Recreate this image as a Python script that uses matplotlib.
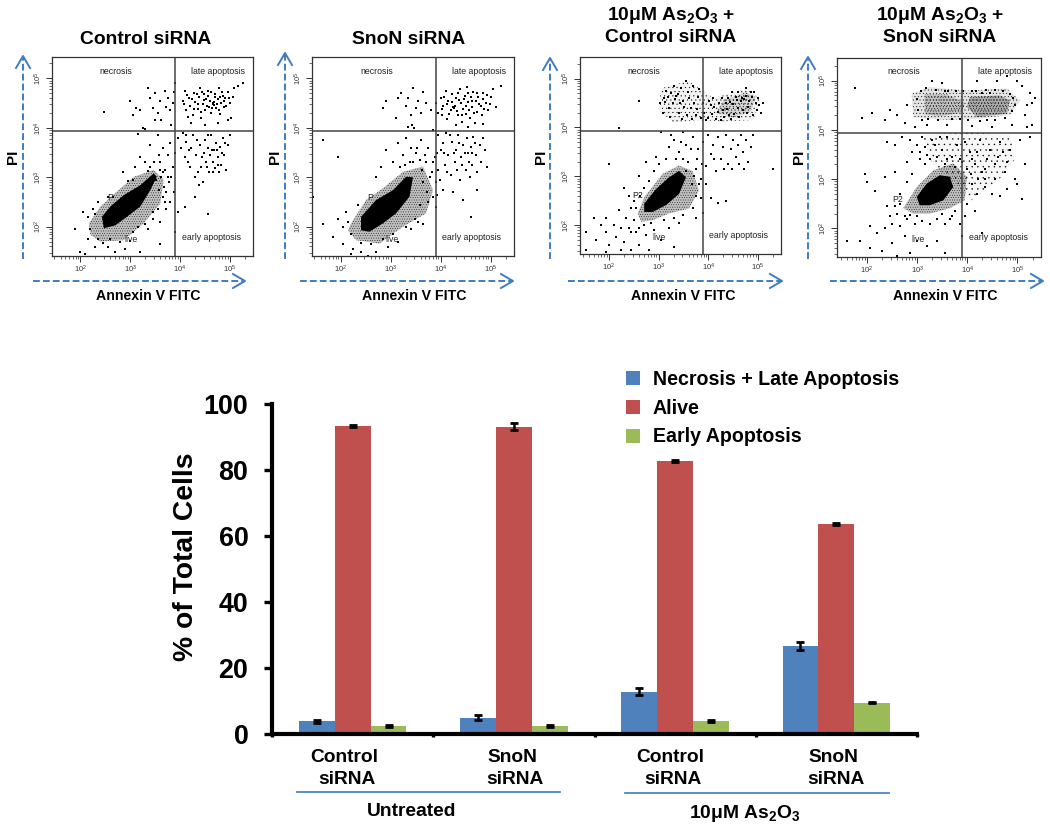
# Flow cytometry panels + bar chart of cell populations
import numpy as np
import matplotlib
matplotlib.use('Agg')
from matplotlib import pyplot as plt
from matplotlib.lines import Line2D
from matplotlib.ticker import LogLocator, NullFormatter

plt.rcParams['font.family'] = ['Liberation Sans', 'DejaVu Sans']
plt.rcParams['mathtext.default'] = 'regular'
plt.rcParams['hatch.linewidth'] = 0.25

W, H = 1050, 833

# bar chart values
groups = ['Control\nsiRNA', 'SnoN\nsiRNA', 'Control\nsiRNA', 'SnoN\nsiRNA']
series = ['Necrosis + Late Apoptosis', 'Alive', 'Early Apoptosis']
necrosis_late = [3.8, 4.9, 12.8, 26.6]
alive = [93.4, 93.1, 82.7, 63.6]
early = [2.4, 2.4, 4.0, 9.5]
necrosis_late_err = [0.4, 0.8, 1.0, 1.2]
alive_err = [0.3, 1.1, 0.4, 0.4]
early_err = [0.4, 0.4, 0.3, 0.2]
bar_colors = ['#4F81BD', '#C0504D', '#9BBB59']

# gates and dots in log10 units. The dense clouds are outlines, the dots are hand read
ctrl_core = [(2.43, 2.2), (2.6, 2.41), (2.87, 2.64), (3.2, 2.84), (3.47, 3.08), (3.53, 3.01), (3.4, 2.74),
             (3.2, 2.41), (2.93, 2.2), (2.7, 2.03), (2.47, 1.97)]
ctrl_halo = [(2.17, 2.07), (2.4, 2.41), (2.73, 2.71), (3.07, 3.01), (3.47, 3.15), (3.67, 2.95), (3.6, 2.47),
             (3.27, 2.07), (2.87, 1.73), (2.4, 1.7), (2.2, 1.84)]
ctrl_pts = [(4.05, 4.55), (4.1, 4.75), (4.12, 4.35), (4.18, 4.6), (4.2, 4.45), (4.25, 4.25), (4.28, 4.7), (4.3, 4.52),
            (4.35, 4.38), (4.38, 4.62), (4.4, 4.8), (4.42, 4.2), (4.45, 4.48), (4.48, 4.68), (4.5, 4.35), (4.52, 4.58),
            (4.55, 4.75), (4.58, 4.42), (4.6, 4.55), (4.62, 4.3), (4.65, 4.5), (4.66, 4.48), (4.67, 4.46), (4.68, 4.52),
            (4.7, 4.68), (4.72, 4.4), (4.75, 4.58), (4.78, 4.8), (4.8, 4.28), (4.82, 4.5), (4.85, 4.65), (4.88, 4.42),
            (4.9, 4.6), (4.95, 4.72), (5.0, 4.5), (5.05, 4.62), (5.08, 4.8), (5.15, 4.85), (5.25, 4.9), (4.22, 4.1),
            (4.5, 4.05), (4.75, 4.1), (4.95, 4.15), (5.02, 4.2), (2.48, 4.31), (3.0, 4.55), (3.05, 4.25), (3.12, 4.4),
            (3.2, 4.35), (3.25, 4.0), (3.3, 3.98), (3.4, 4.6), (3.45, 4.4), (3.5, 4.7), (3.55, 4.3), (3.6, 4.55),
            (3.62, 4.15), (3.7, 4.75), (3.72, 4.42), (3.75, 4.6), (3.8, 4.35), (3.85, 4.5), (3.88, 4.72), (3.9, 4.9),
            (3.82, 4.05), (3.5, 4.15), (3.35, 4.8), (3.15, 3.87), (3.95, 3.8), (4.02, 3.6), (4.05, 3.9), (4.1, 3.4),
            (4.12, 3.72), (4.18, 3.55), (4.2, 3.2), (4.25, 3.85), (4.3, 3.0), (4.32, 3.45), (4.38, 2.85), (4.4, 3.65),
            (4.42, 3.2), (4.45, 2.9), (4.48, 3.5), (4.5, 3.75), (4.52, 3.3), (4.55, 3.6), (4.58, 3.1), (4.6, 3.45),
            (4.62, 3.85), (4.65, 3.3), (4.68, 3.55), (4.7, 3.18), (4.72, 3.7), (4.75, 3.4), (4.78, 3.1), (4.8, 3.62),
            (4.82, 3.25), (4.85, 3.8), (4.88, 3.45), (4.92, 3.15), (4.95, 3.65), (5.0, 3.85), (4.3, 2.6), (4.1, 2.4),
            (4.55, 2.25), (3.95, 2.3), (3.6, 3.3), (3.65, 3.6), (3.7, 3.15), (3.75, 3.45), (3.78, 2.9), (3.8, 3.7),
            (3.85, 3.2), (3.88, 2.7), (3.9, 3.5), (3.55, 3.85), (3.4, 3.65), (3.3, 3.3), (3.2, 3.4), (3.1, 3.2),
            (2.85, 3.1), (3.05, 2.95), (3.65, 2.6), (3.72, 2.35), (3.6, 2.1), (3.55, 2.35), (3.8, 2.5), (3.45, 2.3),
            (3.35, 1.95), (3.05, 1.9), (3.6, 1.65), (3.9, 1.9), (2.0, 1.5), (2.1, 1.45), (2.3, 1.6), (2.2, 1.95),
            (2.35, 1.75), (2.55, 1.6), (2.7, 1.5), (2.9, 1.55), (3.2, 1.5), (1.9, 1.95), (2.05, 2.3), (2.15, 2.2),
            (2.25, 2.35), (2.35, 2.5), (3.75, 3.0),
            (4.08, 4.48), (4.14, 4.66), (4.16, 4.22), (4.24, 4.58), (4.27, 4.38), (4.33, 4.68), (4.36, 4.48), (4.41, 4.32),
            (4.44, 4.72), (4.47, 4.56), (4.53, 4.44), (4.56, 4.64), (4.61, 4.72), (4.64, 4.4), (4.69, 4.62), (4.73, 4.48),
            (4.77, 4.36), (4.79, 4.62), (4.83, 4.72), (4.87, 4.55), (4.91, 4.45), (4.97, 4.6), (4.12, 3.85), (4.16, 3.3),
            (4.22, 3.6), (4.34, 3.75), (4.36, 3.1), (4.44, 3.4), (4.54, 3.2), (4.56, 3.85), (4.64, 3.55), (4.66, 3.1),
            (4.74, 3.55), (4.76, 3.25), (4.84, 3.5), (4.9, 3.7), (3.62, 3.0), (3.68, 2.8), (3.72, 2.7), (3.58, 2.75),
            (3.65, 3.1), (3.52, 2.95), (3.48, 3.3), (3.82, 3.0), (3.4, 3.2), (3.58, 3.45), (2.3, 2.25), (2.6, 1.75),
            (2.8, 1.7), (3.0, 1.72), (3.3, 2.05), (3.45, 2.15), (2.45, 1.68), (2.15, 1.75), (2.65, 2.6), (2.55, 2.6),
            (2.95, 2.92), (3.35, 3.12), (3.6, 3.15), (3.7, 2.5), (3.15, 2.0)]

snon_core = [(2.41, 2.2), (2.71, 2.54), (3.05, 2.74), (3.31, 3.01), (3.45, 3.0), (3.38, 2.61), (3.11, 2.27),
             (2.85, 2.07), (2.58, 1.9), (2.41, 1.93)]
snon_halo = [(2.21, 2.07), (2.51, 2.54), (2.85, 2.78), (3.25, 3.11), (3.65, 3.22), (3.85, 2.74), (3.71, 2.27),
             (3.25, 2.0), (2.78, 1.66), (2.31, 1.73), (2.15, 1.93)]
snon_pts = [(3.95, 4.3), (4.0, 4.6), (4.02, 4.25), (4.05, 4.45), (4.1, 4.75), (4.12, 4.18), (4.15, 4.55), (4.2, 4.35),
            (4.22, 4.68), (4.25, 4.42), (4.26, 4.4), (4.28, 4.44), (4.3, 4.6), (4.35, 4.25), (4.38, 4.78), (4.4, 4.5),
            (4.42, 4.12), (4.45, 4.38), (4.48, 4.65), (4.5, 4.28), (4.52, 4.82), (4.55, 4.52), (4.58, 4.2), (4.6, 4.62),
            (4.62, 4.42), (4.65, 4.72), (4.68, 4.1), (4.7, 4.55), (4.72, 4.32), (4.75, 4.62), (4.8, 4.45), (4.82, 4.25),
            (4.85, 4.7), (4.9, 4.5), (4.95, 4.35), (5.0, 4.62), (5.05, 4.78), (5.1, 4.42), (5.2, 4.85), (4.3, 4.05),
            (4.55, 4.02), (4.85, 4.08), (2.85, 4.4), (2.9, 4.55), (3.1, 4.2), (3.15, 4.6), (3.2, 4.7), (3.3, 4.45),
            (3.35, 4.6), (3.4, 4.25), (3.45, 4.8), (3.5, 4.4), (3.55, 4.55), (3.6, 4.3), (3.65, 4.72), (3.7, 4.5),
            (3.8, 4.35), (3.9, 4.5), (3.35, 4.02), (3.42, 4.05), (3.47, 4.0), (3.85, 3.95), (3.95, 3.85), (4.0, 3.55),
            (4.05, 3.7), (4.08, 3.25), (4.1, 3.9), (4.15, 3.45), (4.2, 3.05), (4.22, 3.72), (4.28, 3.3), (4.3, 3.55),
            (4.35, 3.85), (4.38, 2.95), (4.4, 3.4), (4.45, 3.65), (4.5, 3.15), (4.52, 3.8), (4.55, 3.5), (4.58, 3.0),
            (4.6, 3.62), (4.62, 3.25), (4.65, 3.82), (4.7, 3.45), (4.72, 3.1), (4.78, 3.65), (4.8, 3.3), (4.85, 3.8),
            (4.88, 3.55), (4.92, 3.2), (4.72, 2.75), (4.25, 2.7), (4.45, 2.55), (4.6, 2.2), (3.9, 2.4), (4.05, 2.75),
            (3.6, 3.75), (3.5, 3.5), (3.4, 3.6), (3.3, 3.8), (3.25, 3.45), (3.15, 3.7), (3.05, 3.3), (2.9, 3.55),
            (2.8, 3.2), (2.7, 3.0), (3.7, 3.3), (3.75, 3.6), (3.82, 3.1), (3.88, 3.4), (3.9, 2.9), (3.95, 3.15),
            (3.65, 2.9), (3.75, 2.5), (3.85, 2.6), (3.55, 2.1), (3.4, 1.95), (3.65, 2.05), (2.05, 2.0), (1.95, 2.15),
            (2.1, 2.3), (1.45, 2.6), (1.65, 2.05), (1.85, 1.8), (2.2, 1.45), (2.4, 1.5), (2.55, 1.42), (2.7, 1.5),
            (2.95, 1.6), (3.15, 1.7), (2.05, 1.65), (2.25, 1.55), (1.95, 3.4), (1.65, 3.75),
            (4.03, 4.38), (4.07, 4.62), (4.13, 4.48), (4.17, 4.28), (4.23, 4.52), (4.32, 4.34), (4.34, 4.7), (4.37, 4.56),
            (4.43, 4.26), (4.46, 4.58), (4.51, 4.44), (4.54, 4.7), (4.57, 4.36), (4.63, 4.55), (4.67, 4.3), (4.73, 4.7),
            (4.77, 4.48), (4.84, 4.58), (4.87, 4.38), (4.93, 4.66), (4.98, 4.48), (4.06, 3.5), (4.12, 3.1), (4.18, 3.85),
            (4.26, 3.5), (4.33, 3.15), (4.37, 3.7), (4.43, 3.25), (4.48, 3.5), (4.57, 3.3), (4.63, 3.5), (4.68, 3.7),
            (3.98, 2.95), (3.92, 3.5), (3.85, 3.3), (3.78, 3.0), (3.72, 2.7), (3.68, 3.45), (3.62, 3.15), (3.58, 3.35),
            (3.52, 3.6), (3.45, 3.3), (3.38, 3.3), (3.28, 3.25), (3.18, 3.2), (3.92, 2.65), (3.58, 2.45), (3.48, 2.15),
            (3.3, 2.0), (3.05, 1.85), (2.85, 1.75), (2.6, 1.65), (2.4, 1.68), (2.15, 2.1), (2.2, 1.85), (2.35, 2.45)]

as_ctrl_core = [(2.71, 2.44), (2.95, 2.74), (3.21, 2.98), (3.41, 3.11), (3.55, 2.98), (3.41, 2.64), (3.15, 2.41),
                (2.88, 2.27), (2.71, 2.27)]
as_ctrl_halo = [(2.58, 2.24), (2.71, 2.57), (3.08, 3.05), (3.41, 3.22), (3.68, 3.11), (3.81, 2.71), (3.61, 2.34),
                (3.21, 2.24), (2.88, 2.1), (2.65, 2.07)]
as_ctrl_band = [(3.0, 4.35), (3.05, 4.8), (3.6, 4.95), (4.1, 4.6), (4.8, 4.8), (5.05, 4.55), (4.9, 4.15), (4.3, 4.12),
                (3.8, 4.15), (3.3, 4.1)]
as_ctrl_dense = [(4.15, 4.3), (4.3, 4.55), (4.75, 4.72), (4.95, 4.62), (4.85, 4.32), (4.5, 4.2)]
as_ctrl_pts = [(3.1, 4.6), (3.15, 4.75), (3.2, 4.4), (3.25, 4.7), (3.3, 4.85), (3.35, 4.65), (3.38, 4.68), (3.4, 4.3),
               (3.45, 4.8), (3.5, 4.55), (3.55, 4.95), (3.6, 4.72), (3.65, 4.4), (3.7, 4.85), (3.75, 4.25), (3.8, 4.62),
               (3.85, 4.2), (3.9, 4.5), (4.0, 4.2), (4.05, 4.45), (4.1, 4.6), (4.2, 4.32), (4.25, 4.15), (4.3, 4.35),
               (4.35, 4.5), (4.4, 4.6), (4.42, 4.25), (4.5, 4.48), (4.55, 4.62), (4.6, 4.4), (4.65, 4.55), (4.68, 4.6),
               (4.7, 4.35), (4.72, 4.58), (4.75, 4.65), (4.8, 4.42), (4.82, 4.55), (4.85, 4.72), (4.9, 4.25), (4.95, 4.5),
               (5.05, 4.3), (5.1, 4.5), (2.6, 4.55), (2.2, 3.98), (3.05, 3.9), (3.25, 3.85), (3.2, 3.6), (3.3, 3.75),
               (3.4, 3.5), (3.5, 3.9), (3.55, 3.65), (3.6, 3.3), (3.7, 3.8), (3.75, 3.15), (3.8, 3.55), (3.85, 2.95),
               (3.9, 3.7), (3.95, 3.2), (4.0, 3.85), (4.05, 3.45), (4.1, 3.65), (4.15, 3.1), (4.2, 3.8), (4.25, 3.35),
               (4.3, 3.6), (4.35, 3.85), (4.4, 3.25), (4.45, 3.55), (4.5, 3.75), (4.55, 3.4), (4.6, 3.65), (4.65, 3.85),
               (4.7, 3.5), (4.75, 3.75), (4.8, 3.3), (4.85, 3.6), (4.9, 3.85), (3.95, 2.85), (4.05, 2.55), (4.2, 2.45),
               (4.35, 2.5), (3.9, 2.25), (5.3, 3.15), (2.0, 3.25), (2.6, 3.0), (2.75, 3.3), (2.9, 3.1), (2.95, 3.4),
               (2.3, 2.75), (2.4, 2.6), (2.45, 2.35), (2.5, 2.1), (2.35, 2.15), (2.2, 2.3), (2.25, 1.95), (2.1, 2.0),
               (1.95, 2.15), (1.85, 2.0), (1.7, 2.15), (1.55, 1.85), (1.75, 1.7), (1.95, 1.85), (2.15, 1.75), (2.3, 1.65),
               (2.45, 1.85), (2.6, 1.95), (2.75, 1.8), (2.6, 1.6), (2.45, 1.5), (2.25, 1.5), (2.0, 1.6), (2.9, 1.9),
               (3.05, 1.7), (3.2, 1.95), (3.4, 2.05), (3.1, 2.1), (2.8, 1.5), (3.3, 1.55), (1.55, 1.5), (1.95, 1.45),
               (3.02, 4.5), (3.08, 4.3), (3.12, 4.52), (3.18, 4.62), (3.22, 4.22), (3.28, 4.5), (3.32, 4.58), (3.42, 4.5),
               (3.48, 4.18), (3.52, 4.42), (3.58, 4.26), (3.62, 4.6), (3.68, 4.18), (3.72, 4.5), (3.78, 4.38), (3.82, 4.78),
               (3.92, 4.3), (3.95, 4.15), (4.02, 4.55), (4.08, 4.28), (4.12, 4.42), (4.16, 4.18), (4.22, 4.5), (4.28, 4.6),
               (4.32, 4.22), (4.38, 4.38), (4.44, 4.52), (4.46, 4.18), (4.52, 4.28), (4.58, 4.56), (4.62, 4.22), (4.78, 4.3),
               (4.88, 4.62), (4.92, 4.72), (4.98, 4.35), (5.0, 4.6), (5.02, 4.45), (4.75, 4.8), (4.6, 4.72), (4.48, 4.72),
               (3.55, 3.1), (3.65, 3.55), (3.72, 3.0), (3.78, 3.35), (3.82, 2.85), (3.88, 3.25), (3.68, 2.85), (3.75, 2.6),
               (3.85, 2.55), (3.7, 2.35), (3.5, 3.35), (3.45, 3.7), (3.35, 3.35), (3.15, 3.35), (3.0, 3.25), (4.12, 3.35),
               (4.32, 3.15), (4.48, 3.15), (4.62, 3.25), (4.72, 3.15), (2.55, 2.35), (2.62, 2.6), (2.5, 2.5), (2.8, 2.9),
               (2.7, 2.75), (3.3, 2.15), (3.5, 2.2), (3.75, 2.15), (2.85, 2.05), (2.7, 2.0), (2.55, 1.85), (2.4, 1.95)]

as_snon_core = [(2.99, 2.64), (3.19, 2.91), (3.45, 3.08), (3.65, 3.05), (3.72, 2.84), (3.52, 2.57), (3.25, 2.47),
                (3.05, 2.47)]
as_snon_halo = [(2.72, 2.41), (2.99, 2.84), (3.32, 3.18), (3.72, 3.32), (3.99, 3.05), (3.95, 2.57), (3.65, 2.41),
                (3.25, 2.3), (2.92, 2.3)]
as_snon_band = [(2.89, 4.74), (3.25, 4.87), (3.99, 4.8), (4.79, 4.84), (5.05, 4.6), (4.85, 4.3), (4.25, 4.23),
                (3.59, 4.2), (2.92, 4.26)]
as_snon_dense = [(4.05, 4.67), (4.65, 4.7), (4.85, 4.6), (4.79, 4.33), (4.19, 4.26), (3.99, 4.47)]
as_snon_dense2 = [(3.15, 4.72), (3.6, 4.72), (3.95, 4.55), (3.9, 4.35), (3.45, 4.28), (3.15, 4.32)]
as_snon_mid = [(3.1, 3.9), (4.0, 3.95), (4.85, 3.9), (4.95, 3.4), (4.6, 2.95), (4.05, 2.55), (3.8, 2.9), (3.3, 3.3)]
as_snon_pts = [(2.45, 4.4), (2.6, 4.3), (2.8, 4.5), (2.75, 4.15), (2.1, 4.35), (1.75, 4.85), (1.9, 4.25), (2.35, 4.2),
               (5.2, 4.5), (5.25, 4.75), (5.3, 4.55), (5.35, 4.65), (5.15, 4.3), (5.1, 4.9), (5.0, 5.0), (4.6, 5.0),
               (4.8, 5.1), (4.2, 5.0), (5.3, 4.1), (5.2, 4.05), (4.9, 4.1), (4.5, 4.05), (4.1, 4.08), (3.6, 4.1),
               (3.2, 4.1), (2.95, 4.05), (3.5, 4.95), (3.3, 5.0), (3.1, 3.85), (3.0, 3.7), (2.9, 3.55), (2.85, 3.8),
               (2.7, 3.85), (2.55, 3.7), (2.4, 3.75), (2.8, 3.35), (3.05, 3.4), (3.15, 3.65), (3.3, 3.8), (3.5, 3.6),
               (3.6, 3.85), (3.7, 3.45), (3.8, 3.7), (3.85, 3.4), (3.95, 3.75), (4.05, 3.55), (4.15, 3.3), (4.25, 3.8),
               (4.35, 3.2), (4.45, 3.6), (4.55, 3.0), (4.65, 3.75), (4.75, 3.15), (4.85, 3.6), (4.95, 3.0), (5.05, 3.8),
               (5.15, 3.3), (5.25, 3.85), (5.1, 2.6), (5.0, 2.9), (4.8, 2.8), (4.65, 2.65), (4.5, 2.7), (4.35, 2.85),
               (4.2, 2.7), (4.1, 2.9), (4.0, 2.5), (3.95, 2.25), (4.15, 2.35), (4.3, 1.9), (3.9, 1.85), (3.85, 2.1),
               (3.7, 2.25), (3.55, 2.1), (3.4, 2.2), (3.25, 2.1), (3.1, 2.15), (2.95, 2.1), (2.8, 2.2), (2.65, 2.05),
               (2.5, 2.1), (2.35, 2.0), (2.2, 1.9), (2.05, 2.05), (1.85, 1.75), (1.6, 1.75), (2.05, 1.6), (2.3, 1.55),
               (2.5, 1.7), (2.75, 1.85), (3.0, 1.75), (3.2, 1.65), (3.4, 1.75), (3.55, 1.5), (2.85, 1.5), (2.6, 1.45),
               (2.0, 2.95), (1.95, 3.1), (2.15, 2.75), (2.35, 3.05), (2.55, 3.15), (2.65, 2.7), (2.8, 2.95), (2.9, 3.1),
               (3.0, 4.62), (3.02, 4.4), (3.08, 4.78), (3.1, 4.2), (3.18, 4.85), (3.22, 4.22), (3.38, 4.82), (3.42, 4.2),
               (3.55, 4.8), (3.62, 4.78), (3.7, 4.22), (3.78, 4.78), (3.85, 4.22), (3.92, 4.8), (4.02, 4.2), (4.1, 4.78),
               (4.18, 4.8), (4.3, 4.75), (4.38, 4.82), (4.45, 4.75), (4.55, 4.82), (4.72, 4.78), (4.85, 4.72), (4.92, 4.65),
               (4.95, 4.5), (4.9, 4.38), (4.75, 4.25), (4.55, 4.2), (4.4, 4.2), (4.25, 4.18), (3.05, 3.55), (3.2, 3.5),
               (3.4, 3.45), (3.6, 3.4), (3.75, 3.25), (3.15, 3.3), (3.25, 3.4), (3.35, 3.7), (3.45, 3.85), (3.55, 3.3),
               (3.9, 3.35), (4.1, 3.4), (4.2, 3.55), (4.3, 3.15), (4.4, 3.4), (4.55, 3.3), (4.62, 3.45), (4.72, 3.55),
               (4.8, 3.35), (4.0, 3.2), (4.08, 3.1), (4.22, 3.0), (4.35, 3.0), (2.6, 2.3), (2.65, 2.5), (2.55, 2.45),
               (2.45, 2.25), (2.75, 2.25), (2.85, 2.28), (2.4, 2.45), (3.0, 2.25), (3.5, 2.3), (3.75, 2.35), (3.65, 2.2)]

gate_x = [3.9, 3.9, 3.89, 3.9]
gate_y = [3.93, 3.93, 3.93, 3.93]

# cloud outlines with hatch texture: (points, hatch, underlay grey strength)
panels = [
    dict(core=ctrl_core, halo=ctrl_halo, pts=ctrl_pts, extra=[], frame=(52, 57, 253, 256), xlim=(1.43, 5.46), ylim=(1.41, 5.43),
         gx=gate_x[0], gy=gate_y[0], xarrow=(33, 245), yarrow=(23, 56), plabel='P', title=['Control siRNA'], tx=146, pi=13, xl=148),
    dict(core=snon_core, halo=snon_halo, pts=snon_pts, extra=[], frame=(312, 57, 514, 256), xlim=(1.43, 5.47), ylim=(1.41, 5.43),
         gx=gate_x[1], gy=gate_y[1], xarrow=(300, 513), yarrow=(285, 53), plabel='P', title=['SnoN siRNA'], tx=409, pi=275, xl=414),
    dict(core=as_ctrl_core, halo=as_ctrl_halo, pts=as_ctrl_pts, extra=[(as_ctrl_band, '....', 0.05), (as_ctrl_dense, '.....', 0.12)],
         frame=(580, 57, 781, 254), xlim=(1.42, 5.46), ylim=(1.41, 5.44), gx=gate_x[2], gy=gate_y[2], xarrow=(568, 782),
         yarrow=(550, 58), plabel='P2', title=['10μM As$_2$O$_3$ +', 'Control siRNA'], tx=671, pi=541, xl=683),
    dict(core=as_snon_core, halo=as_snon_halo, pts=as_snon_pts,
         extra=[(as_snon_mid, '...', 0.03), (as_snon_band, '.....', 0.1), (as_snon_dense, '......', 0.25), (as_snon_dense2, '......', 0.15)],
         frame=(837, 58, 1041, 257), xlim=(1.40, 5.47), ylim=(1.42, 5.46), gx=gate_x[3], gy=gate_y[3], xarrow=(830, 1043),
         yarrow=(808, 57), plabel='P2', title=['10μM As$_2$O$_3$ +', 'SnoN siRNA'], tx=940, pi=799, xl=945),
]

arrow_blue = '#3F7CC4'
line_blue = '#4A86C8'


def px_text(x, y, s, **kw):
    kw.setdefault('ha', 'center')
    kw.setdefault('va', 'center')
    return fig.text(x / W, 1 - y / H, s, **kw)


def px_line(xs, ys, **kw):
    fig.add_artist(Line2D(np.array(xs) / W, 1 - np.array(ys) / H, transform=fig.transFigure, **kw))


def px_axes(left, top, right, bottom):
    return fig.add_axes([left / W, 1 - bottom / H, (right - left) / W, (bottom - top) / H])


def dashed_arrows(p):
    x0, x1 = p['xarrow']
    yx, y1 = p['yarrow']
    px_line([x0, x1], [281, 281], color=arrow_blue, lw=1.4, ls=(0, (3.5, 1.6)))
    px_line([x1 - 12, x1, x1 - 12], [274, 281, 288], color=arrow_blue, lw=1.4)
    px_line([yx, yx], [259, y1], color=arrow_blue, lw=1.4, ls=(0, (3.5, 1.6)))
    px_line([yx - 7, yx, yx + 7], [y1 + 12, y1, y1 + 12], color=arrow_blue, lw=1.4)


def speckle(ax, poly, hatch, grey):
    xy = np.array(poly)
    ax.fill(10 ** xy[:, 0], 10 ** xy[:, 1], color='black', alpha=grey, lw=0)
    ax.fill(10 ** xy[:, 0], 10 ** xy[:, 1], facecolor='none', edgecolor='black', hatch=hatch, lw=0)


def draw_panel(p):
    ax = px_axes(*p['frame'])
    ax.set_xscale('log')
    ax.set_yscale('log')
    ax.set_xlim(10 ** p['xlim'][0], 10 ** p['xlim'][1])
    ax.set_ylim(10 ** p['ylim'][0], 10 ** p['ylim'][1])

    for poly, hatch, grey in p['extra']:
        speckle(ax, poly, hatch, grey)
    speckle(ax, p['halo'], '.......', 0.25)
    core = np.array(p['core'])
    ax.fill(10 ** core[:, 0], 10 ** core[:, 1], color='black', lw=0)
    pts = np.array(p['pts'])
    ax.scatter(10 ** pts[:, 0], 10 ** pts[:, 1], s=0.8, c='black', marker='s', linewidths=0)

    ax.axvline(10 ** p['gx'], color='#444444', lw=1.1)
    ax.axhline(10 ** p['gy'], color='#444444', lw=1.1)

    for spine in ax.spines.values():
        spine.set_linewidth(0.9)
        spine.set_color('#333333')
    for axis in (ax.xaxis, ax.yaxis):
        axis.set_major_locator(LogLocator(base=10, numticks=10))
        axis.set_minor_locator(LogLocator(base=10, subs=range(2, 10), numticks=10))
        axis.set_minor_formatter(NullFormatter())
    ax.tick_params(which='major', length=4, width=0.7, labelsize=5.5, pad=1.5, color='#333333', labelcolor='#333333')
    ax.tick_params(which='minor', length=2.5, width=0.5, color='#333333')
    ax.tick_params(axis='y', which='major', labelrotation=90)
    for lab in ax.get_yticklabels():
        lab.set_va('center')

    # quadrant labels, placed relative to the frame
    l, t, r, b = p['frame']
    gate_px = l + (p['gx'] - p['xlim'][0]) / (p['xlim'][1] - p['xlim'][0]) * (r - l)
    small = dict(fontsize=6.3, color='#222222')
    px_text(gate_px - 59, t + 14, 'necrosis', **small)
    px_text(gate_px + 43, t + 14, 'late apoptosis', **small)
    px_text(gate_px - 44, b - 17, 'live', **small)
    px_text(gate_px + 36, b - 19, 'early apoptosis', **small)
    px_text(gate_px - 65, b - 58, p['plabel'], **small)

    # titles and axis names
    if len(p['title']) == 1:
        px_text(p['tx'], 39, p['title'][0], fontsize=13.9, fontweight='bold')
    else:
        px_text(p['tx'], 15, p['title'][0], fontsize=13.9, fontweight='bold')
        px_text(p['tx'], 38, p['title'][1], fontsize=13.9, fontweight='bold')
    px_text(p['pi'], 157, 'PI', fontsize=11, fontweight='bold', rotation=90)
    px_text(p['xl'], 296, 'Annexin V FITC', fontsize=10.2, fontweight='bold')
    dashed_arrows(p)


fig = plt.figure(figsize=(W / 100, H / 100), dpi=100)

for p in panels:
    draw_panel(p)

# bar chart
ax = px_axes(272, 404, 917, 734)
centers = np.arange(len(groups)) + 0.5
bar_w = 0.2225
bar_sets = [(necrosis_late, necrosis_late_err), (alive, alive_err), (early, early_err)]
for i, (vals, errs) in enumerate(bar_sets):
    ax.bar(centers + (i - 1) * bar_w, vals, bar_w, color=bar_colors[i], label=series[i],
           edgecolor='none', yerr=errs, error_kw=dict(ecolor='black', elinewidth=1.8, capsize=2.8, capthick=2.0))
ax.set_xlim(0, 4)
ax.set_ylim(0, 100)
ax.spines['top'].set_visible(False)
ax.spines['right'].set_visible(False)
ax.spines['left'].set_linewidth(3)
ax.spines['bottom'].set_linewidth(3)
ax.set_xticks(range(5))
ax.set_xticklabels([])
ax.set_yticks(range(0, 101, 20))
ax.tick_params(axis='y', length=6, width=2.4, labelsize=19.4, pad=11)
ax.tick_params(axis='x', length=2.5, width=2.4)
for lab in ax.get_yticklabels():
    lab.set_fontweight('bold')

px_text(186, 557, '% of Total Cells', fontsize=20.3, fontweight='bold', rotation=90)

# category labels under the bars
label_x = [344, 512, 670, 833]
for x, g in zip(label_x, groups):
    top, bottom = g.split('\n')
    px_text(x, 757, top, fontsize=13.8, fontweight='bold')
    px_text(x + 3, 780, bottom, fontsize=13.8, fontweight='bold')

px_line([297, 560], [792, 792], color=line_blue, lw=1.3)
px_line([625, 889], [793, 793], color=line_blue, lw=1.3)
px_text(412, 812, 'Untreated', fontsize=13.9, fontweight='bold')
px_text(745, 813, '10μM As$_2$O$_3$', fontsize=13.9, fontweight='bold')

ax.legend(loc='upper left', bbox_to_anchor=((622 - 272) / 645, (734 - 366) / 330), frameon=False,
          prop=dict(size=14.1, weight='bold'), handlelength=0.73, handleheight=0.73, handletextpad=0.64,
          labelspacing=0.5, borderpad=0.2, borderaxespad=0)

fig.savefig('out.png', dpi=100)
